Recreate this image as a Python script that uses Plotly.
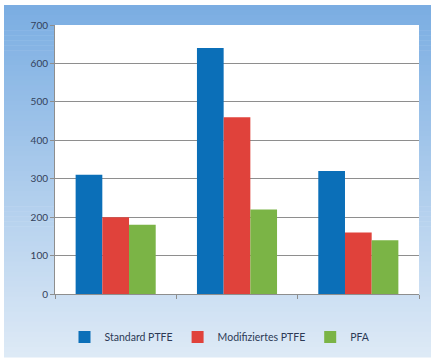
import plotly.graph_objects as go

# Data
groups = ["A", "B", "C"]
series_names = ["Standard PTFE", "Modifiziertes PTFE", "PFA"]
standard_ptfe = [310, 640, 320]
modifiziertes_ptfe = [200, 460, 160]
pfa = [180, 220, 140]
y_ticks = [0, 100, 200, 300, 400, 500, 600, 700]

colors = ["#0b6fb8", "#e0423b", "#7bb446"]
values = [standard_ptfe, modifiziertes_ptfe, pfa]

fig = go.Figure()
for name, vals, col in zip(series_names, values, colors):
    fig.add_trace(go.Bar(x=groups, y=vals, name=name, marker=dict(color=col, line=dict(width=0))))

# Vertical gradient background behind the chart (light blue, darker at top)
W, H = 435, 358
ml, mr, mt, mb = 55, 16, 25, 64
pw, ph = W - ml - mr, H - mt - mb


def px_to_paper_x(px):
    return (px - ml) / pw


def px_to_paper_y(py):
    return (H - mb - py) / ph


top_rgb = (122, 173, 226)
bot_rgb = (222, 234, 246)
shapes = []
y0_px, y1_px = 5, 357
n = 70
for i in range(n):
    t0 = i / n
    t1 = (i + 1) / n
    t = (t0 + t1) / 2
    r = round(top_rgb[0] + (bot_rgb[0] - top_rgb[0]) * t)
    g = round(top_rgb[1] + (bot_rgb[1] - top_rgb[1]) * t)
    b = round(top_rgb[2] + (bot_rgb[2] - top_rgb[2]) * t)
    ya = y0_px + (y1_px - y0_px) * t0
    yb = y0_px + (y1_px - y0_px) * t1 + 0.6
    shapes.append(dict(type="rect", xref="paper", yref="paper",
                       x0=px_to_paper_x(4), x1=px_to_paper_x(431),
                       y0=px_to_paper_y(yb), y1=px_to_paper_y(ya),
                       fillcolor=f"rgb({r},{g},{b})", line=dict(width=0), layer="below"))
# White plotting area
shapes.append(dict(type="rect", xref="paper", yref="paper", x0=0, x1=1, y0=0, y1=1,
                   fillcolor="white", line=dict(width=0), layer="below"))

fig.update_layout(
    width=W, height=H,
    margin=dict(l=ml, r=mr, t=mt, b=mb, autoexpand=False),
    paper_bgcolor="white",
    plot_bgcolor="white",
    barmode="group",
    bargap=0.34,
    bargroupgap=0,
    shapes=shapes,
    font=dict(family="Lato, Open Sans, sans-serif", color="#33415a"),
    showlegend=True,
    legend=dict(orientation="h", xref="container", yref="container",
                x=220 / W, xanchor="center", y=1 - 337 / H, yanchor="middle",
                font=dict(size=10.5, color="#2c3a55"), bgcolor="rgba(0,0,0,0)",
                itemwidth=30, tracegroupgap=0),
)

fig.update_yaxes(range=[0, 700], tickvals=y_ticks, showgrid=True, gridcolor="#8e8e8e", gridwidth=1,
                 showline=True, linecolor="#8e8e8e", linewidth=1, ticks="outside", ticklen=4,
                 tickcolor="#8e8e8e", tickfont=dict(size=10, color="#33415a"), zeroline=False)
fig.update_xaxes(showticklabels=False, showline=True, linecolor="#8e8e8e", linewidth=1,
                 ticks="outside", ticklen=4, tickcolor="#8e8e8e", tickson="boundaries",
                 showgrid=False)

fig.write_html("out.html")
